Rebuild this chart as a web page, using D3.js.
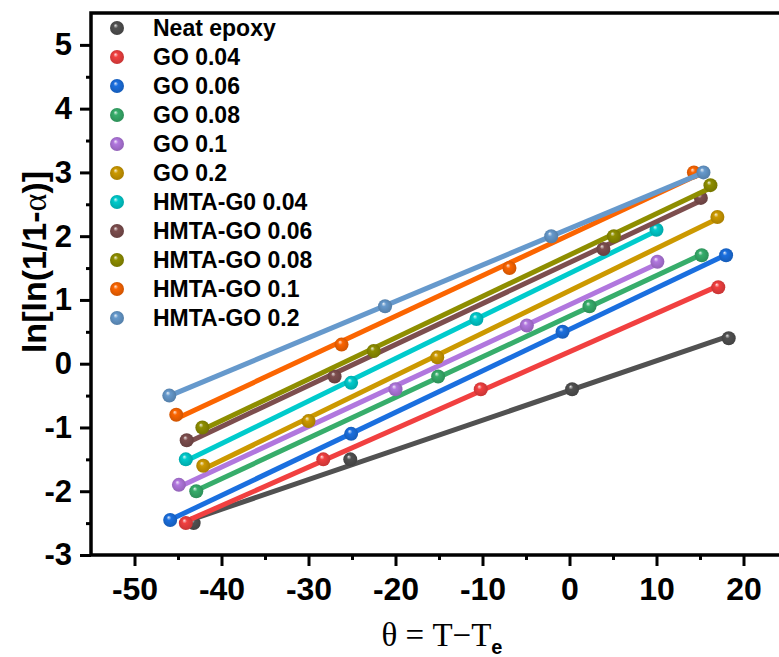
<!DOCTYPE html>
<html>
<head>
<meta charset="utf-8">
<script src="https://cdn.jsdelivr.net/npm/d3@7"></script>
<style>
body { margin: 0; background: #fff; }
svg { display: block; }
.tick text { font-family: Arial, "Liberation Sans", sans-serif; font-weight: bold; }
</style>
</head>
<body>
<svg></svg>
<script>
var screen = {width: 779, height: 657};
var plot = {left: 91, top: 13, right: 787, bottom: 555};

// series, in legend order
var seriesNames = ["Neat epoxy", "GO 0.04", "GO 0.06", "GO 0.08", "GO 0.1", "GO 0.2",
    "HMTA-G0 0.04", "HMTA-GO 0.06", "HMTA-GO 0.08", "HMTA-GO 0.1", "HMTA-GO 0.2"];
var seriesColors = ["#515151", "#F14040", "#1A6FDF", "#37AD6B", "#B177DE", "#CC9900",
    "#00CBCC", "#7D4E4E", "#8E8E00", "#FB6501", "#6699CC"];

// theta = T - Te for each series
var theta = [
    [-43.2, -25.2, 0.3, 18.3],
    [-44.1, -28.3, -10.2, 17.1],
    [-45.9, -25.1, -0.8, 18.0],
    [-42.9, -15.1, 2.3, 15.2],
    [-44.9, -20.0, -4.9, 10.1],
    [-42.1, -30.0, -15.2, 17.0],
    [-44.1, -25.1, -10.7, 10.0],
    [-44.0, -27.0, 3.9, 15.1],
    [-42.2, -22.5, 5.1, 16.2],
    [-45.2, -26.2, -6.9, 14.3],
    [-46.0, -21.2, -2.1, 15.4]
];
// ln[ln(1/1-alpha)] for each series
var lnln = [
    [-2.5, -1.5, -0.4, 0.4],
    [-2.5, -1.5, -0.4, 1.2],
    [-2.45, -1.1, 0.5, 1.7],
    [-2.0, -0.2, 0.9, 1.7],
    [-1.9, -0.4, 0.6, 1.6],
    [-1.6, -0.9, 0.1, 2.3],
    [-1.5, -0.3, 0.7, 2.1],
    [-1.2, -0.2, 1.8, 2.6],
    [-1.0, 0.2, 2.0, 2.8],
    [-0.8, 0.3, 1.5, 3.0],
    [-0.5, 0.9, 2.0, 3.0]
];

var xTicks = [-50, -40, -30, -20, -10, 0, 10, 20];
var yTicks = [-3, -2, -1, 0, 1, 2, 3, 4, 5];

var svg = d3.select("svg")
    .attr("width", screen.width)
    .attr("height", screen.height);

var xScale = d3.scaleLinear().domain([-55, 25]).range([plot.left, plot.right]);
var yScale = d3.scaleLinear().domain([-3, 5.5]).range([plot.bottom, plot.top]);

// ball gradients
var defs = svg.append("defs");
seriesColors.forEach(function(c, i){
    var g = defs.append("radialGradient")
        .attr("id", "ball" + i)
        .attr("cx", "50%").attr("cy", "50%").attr("r", "55%")
        .attr("fx", "38%").attr("fy", "30%");
    g.append("stop").attr("offset", "0%").attr("stop-color", d3.interpolateRgb(c, "#fff")(0.85));
    g.append("stop").attr("offset", "30%").attr("stop-color", c);
    g.append("stop").attr("offset", "100%").attr("stop-color", d3.color(c).darker(0.6));
});

// axes
var axisG = svg.append("g").attr("class", "axis");
var plain = function(d){ return String(d); };

var xAxis = d3.axisBottom(xScale).tickValues(xTicks).tickSize(11).tickPadding(11).tickFormat(plain);
var xMinor = d3.axisBottom(xScale).tickValues(d3.range(-45, 25, 10)).tickSize(5).tickFormat("");
var yAxis = d3.axisLeft(yScale).tickValues(yTicks).tickSize(11).tickPadding(8).tickFormat(plain);
var yMinor = d3.axisLeft(yScale).tickValues(d3.range(-2.5, 5.5, 1)).tickSize(5).tickFormat("");

axisG.append("g").attr("transform", "translate(0," + plot.bottom + ")").call(xMinor);
axisG.append("g").attr("id", "xAxis").attr("transform", "translate(0," + plot.bottom + ")").call(xAxis);
axisG.append("g").attr("transform", "translate(" + plot.left + ",0)").call(yMinor);
axisG.append("g").attr("id", "yAxis").attr("transform", "translate(" + plot.left + ",0)").call(yAxis);

axisG.selectAll(".domain").remove();
axisG.selectAll(".tick line").attr("stroke", "#000").attr("stroke-width", 3);
axisG.selectAll("#xAxis .tick text").style("font-size", "32px").attr("fill", "#000");
axisG.selectAll("#yAxis .tick text").style("font-size", "31px").attr("fill", "#000");

// frame
svg.append("rect")
    .attr("x", plot.left).attr("y", plot.top)
    .attr("width", plot.right - plot.left).attr("height", plot.bottom - plot.top)
    .attr("fill", "none").attr("stroke", "#000").attr("stroke-width", 3.5);

// data
var graph = svg.append("g").attr("id", "graph");

var fitLine = function(xs, ys)
{
    var mx = d3.mean(xs), my = d3.mean(ys);
    var sxy = d3.sum(xs, function(x, i){ return (x - mx) * (ys[i] - my); });
    var sxx = d3.sum(xs, function(x){ return (x - mx) * (x - mx); });
    var b = sxy / sxx, a = my - b * mx;
    var x0 = d3.min(xs), x1 = d3.max(xs);
    return [[x0, a + b * x0], [x1, a + b * x1]];
}

seriesNames.forEach(function(name, i){
    var g = graph.append("g");
    var pts = theta[i].map(function(x, j){ return [x, lnln[i][j]]; });
    g.append("path")
        .datum(fitLine(theta[i], lnln[i]))
        .attr("fill", "none")
        .attr("stroke", seriesColors[i])
        .attr("stroke-width", 5)
        .attr("d", d3.line()
            .x(function(d){ return xScale(d[0]); })
            .y(function(d){ return yScale(d[1]); }));
    g.selectAll("circle")
        .data(pts)
        .enter()
        .append("circle")
        .attr("cx", function(d){ return xScale(d[0]); })
        .attr("cy", function(d){ return yScale(d[1]); })
        .attr("r", 7)
        .attr("fill", "url(#ball" + i + ")");
});

// legend
var legend = svg.append("g").attr("id", "legend");
var rows = legend.selectAll("g")
    .data(seriesNames)
    .enter()
    .append("g")
    .attr("transform", function(d, i){ return "translate(117," + (28 + i * 29) + ")"; });
rows.append("circle")
    .attr("r", 7)
    .attr("fill", function(d, i){ return "url(#ball" + i + ")"; });
rows.append("text")
    .attr("x", 36)
    .attr("y", 8)
    .style("font-family", "Arial, 'Liberation Sans', sans-serif")
    .style("font-weight", "bold")
    .style("font-size", "23px")
    .text(function(d){ return d; });

// axis titles
var yTitle = svg.append("text")
    .attr("transform", "translate(46,262) rotate(-90)")
    .attr("text-anchor", "middle")
    .style("font-family", "Arial, 'Liberation Sans', sans-serif")
    .style("font-weight", "bold")
    .style("font-size", "34px");
yTitle.append("tspan").text("ln[ln(1/1-");
yTitle.append("tspan").style("font-family", "'Liberation Serif', 'Times New Roman', serif").style("font-weight", "normal").text("α");
yTitle.append("tspan").text(")]");

var xTitle = svg.append("text")
    .attr("x", 442)
    .attr("y", 646)
    .attr("text-anchor", "middle")
    .style("font-family", "'Liberation Serif', 'Times New Roman', serif")
    .style("font-size", "33px");
xTitle.append("tspan").text("θ = T−T");
xTitle.append("tspan")
    .attr("dy", 8)
    .style("font-family", "Arial, 'Liberation Sans', sans-serif")
    .style("font-weight", "bold")
    .style("font-size", "20px")
    .text("e");
</script>
</body>
</html>
